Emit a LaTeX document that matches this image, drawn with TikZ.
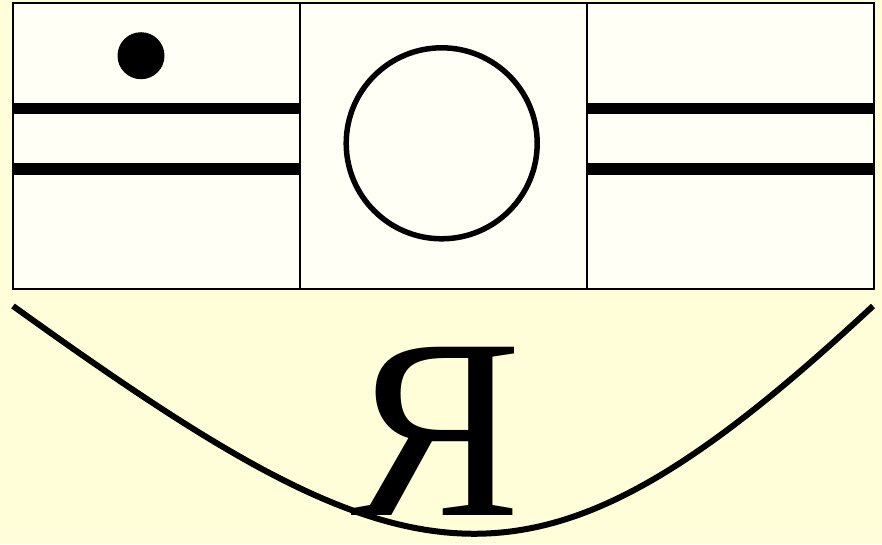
\documentclass[tikz,border=0pt]{standalone}
\usepackage{fontspec}
\newfontfamily\ltrserif{Liberation Serif}
\definecolor{bgyellow}{RGB}{255,254,216}
\definecolor{boxfill}{RGB}{255,255,245}
\tikzset{
  panel/.style={draw=black, line width=2pt, fill=boxfill},
  bar/.style={line width=11.5pt, black},
  curveline/.style={line width=6pt, black},
  ring/.style={draw=black, line width=5.5pt, fill=boxfill},
}
\begin{document}
\begin{tikzpicture}[x=1pt,y=-1pt]
\fill[bgyellow] (0,0) rectangle (882,544);
\useasboundingbox (0,0) rectangle (882,544);
% panels
\draw[panel] (13,3) rectangle (300,289);
\draw[panel] (300,3) rectangle (587,289);
\draw[panel] (587,3) rectangle (874,289);
\coordinate (l1a) at (13,108.5); \coordinate (l1b) at (300,108.5);
\coordinate (l2a) at (13,169);   \coordinate (l2b) at (300,169);
\coordinate (r1a) at (587,108.5); \coordinate (r1b) at (874,108.5);
\coordinate (r2a) at (587,169);   \coordinate (r2b) at (874,169);
\draw[bar] (l1a) -- (l1b);
\draw[bar] (l2a) -- (l2b);
\draw[bar] (r1a) -- (r1b);
\draw[bar] (r2a) -- (r2b);
\fill[black] (141,55.7) circle[radius=23.5];
\draw[ring] (441.7,143.3) circle[radius=95.5];
% curve
\coordinate (cs) at (13,306);
\coordinate (ce) at (873,306);
\node[anchor=base, inner sep=0pt, font=\ltrserif\fontsize{257}{257}\selectfont] (ya) at (436,515) {Я};
\draw[curveline] (cs) .. controls (415,595) and (531,624) .. (ce);
\end{tikzpicture}
\end{document}
